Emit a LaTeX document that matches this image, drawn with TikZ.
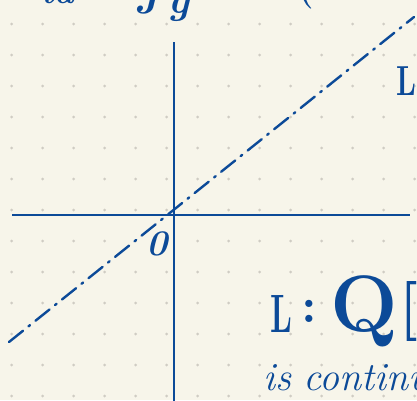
\documentclass[tikz,border=0pt]{standalone}
\usetikzlibrary{positioning}
\definecolor{ink}{HTML}{0C4A98}
\definecolor{paper}{HTML}{F7F5EA}
\definecolor{dotgray}{HTML}{CFCCC3}
\tikzset{
	inktext/.style={text=ink, inner sep=0pt}
}
\tikzset{
	axisline/.style={draw=ink, line width=2.8pt}
}
\tikzset{
	graphline/.style={draw=ink, line width=2.4pt, line cap=round, dash pattern=on 18pt off 7pt on 2pt off 7pt}
}
\newcommand{\penfs}[1]{\fontsize{#1}{#1}\selectfont\bfseries}

\begin{document}
\begin{tikzpicture}[x=1pt, y=-1pt]
      \useasboundingbox (0,0) rectangle (417,400);
      \clip (0,0) rectangle (417,400);
      \fill[paper] (0,0) rectangle (417,400);
      % dotted paper
      \foreach \i in {0,...,13}
        \foreach \j in {0,...,12}
          \fill[dotgray] (11.7+31*\i, 24+31*\j) circle (1.5pt);
      % axes
      \coordinate (xl) at (12,215);
      \coordinate (xr) at (410,215);
      \coordinate (yt) at (174,42);
      \coordinate (yb) at (174,402);
      \draw[axisline] (xl) -- (xr);
      \draw[axisline] (yt) -- (yb);
      % the line through the origin
      \coordinate (ls) at (9,342);
      \coordinate (le) at (414,17);
      \draw[graphline] (ls) -- (le);
      % labels
      \node[inktext, font=\penfs{36}\itshape, anchor=base] (orig) at (157,255) {0};
      \node[inktext, font=\penfs{42}, anchor=base west] (lname) at (396,95) {\scalebox{0.7}[1]{L}};
      \node[inktext, font=\penfs{54}, anchor=base west] (lmapl) at (270,332) {\scalebox{0.6}[1]{L}};
      \node[inktext, font=\penfs{50}, anchor=base] (lmapc) at (309,322) {:};
      \node[inktext, font=\penfs{80}, anchor=base] (lmapq) at (364,331) {Q};
      \node[inktext, font=\penfs{60}, anchor=base west] (lmapb) at (399,326) {[};
      \node[inktext, font=\fontsize{40}{40}\selectfont\itshape, anchor=base west] (cont) at (263,390) {is\hspace{12pt}continu};
      \node[inktext, font=\penfs{34}\itshape, anchor=base] (topa) at (58,3) {ta};
      \node[inktext, font=\penfs{40}\itshape, anchor=base] (topb) at (162,13) {J\hspace{10pt}g};
      \node[inktext, font=\penfs{34}, anchor=base] (topc) at (306,0) {(};
\end{tikzpicture}
\end{document}
